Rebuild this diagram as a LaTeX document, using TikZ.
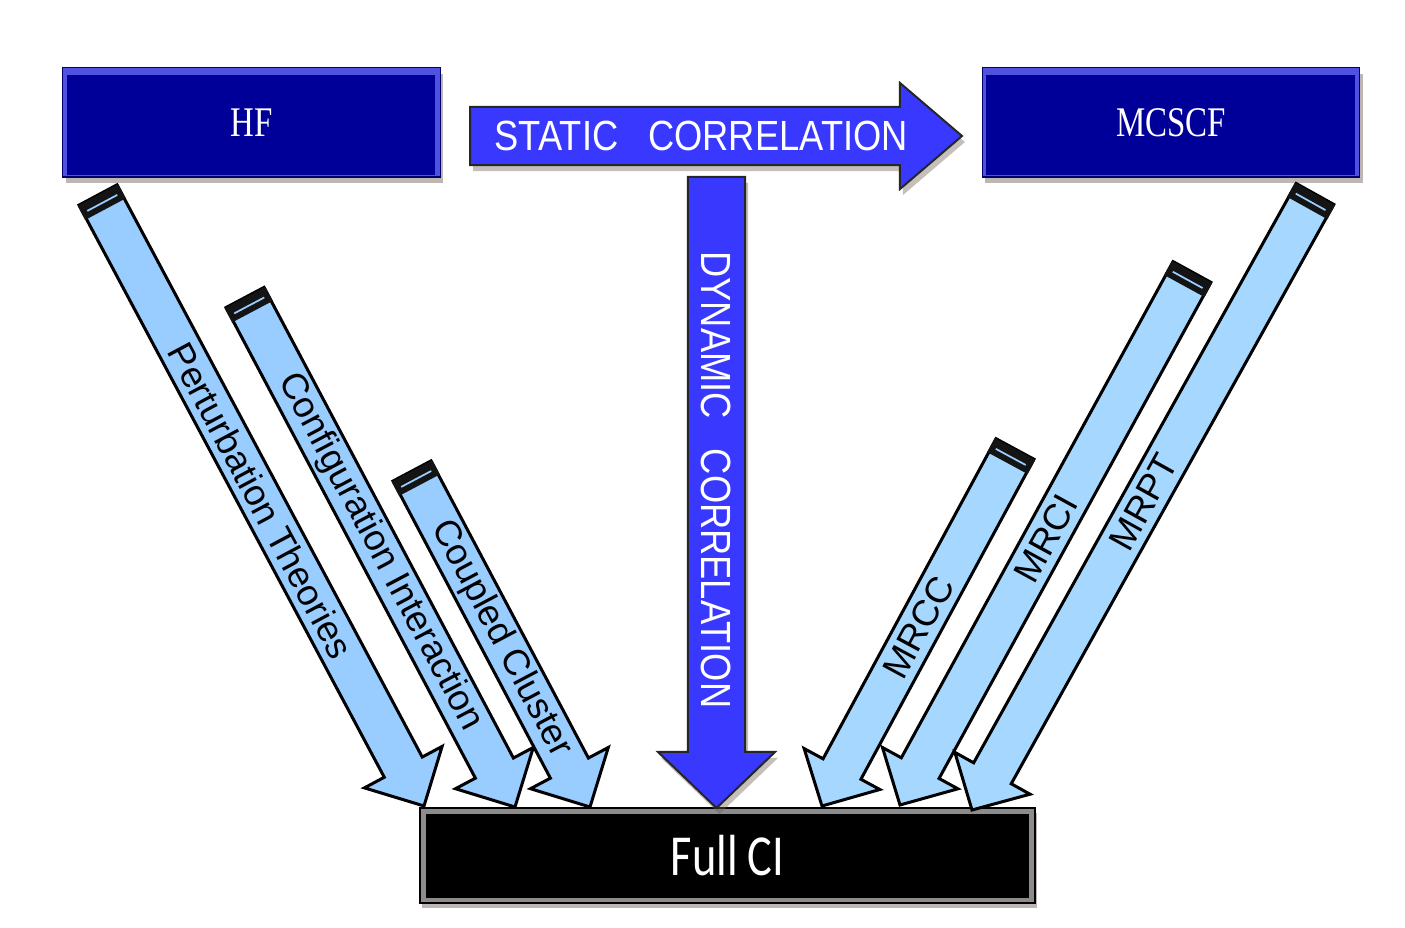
\documentclass[tikz,border=0pt]{standalone}
\usepackage{fontspec}
\setmainfont{Liberation Serif}
\setsansfont{Liberation Sans}
\newfontfamily\boxfont[FakeStretch=0.78]{Liberation Serif}
\newfontfamily\corrfont[FakeStretch=0.86]{Liberation Sans}
\newfontfamily\cifont[FakeStretch=0.8]{Carlito}
\usepackage{tikz}
\usetikzlibrary{calc}
\usetikzlibrary{shadows}

\definecolor{boxblue}{RGB}{0,0,153}
\definecolor{bevelblue}{RGB}{80,80,225}
\definecolor{corrblue}{RGB}{56,56,255}
\definecolor{methblue}{RGB}{153,204,255}
\definecolor{mrblue}{RGB}{166,216,255}
\definecolor{shadowgray}{RGB}{110,95,85}

% block arrow: tail, tip, shaft half width, head half width, head length, style
\newcommand{\blockarrow}[6]{%
    \coordinate (hb) at ($(#2)!#5!(#1)$);
    \draw[#6] ($(#1)!#3!90:(#2)$) -- ($(hb)!#3!-90:(#1)$) -- ($(hb)!#4!-90:(#1)$) -- (#2)
        -- ($(hb)!#4!90:(#1)$) -- ($(hb)!#3!90:(#1)$) -- ($(#1)!#3!-90:(#2)$) -- cycle;
}
% black cap at the tail end of a thin arrow
\newcommand{\tailcap}[2]{%
    \coordinate (cb) at ($(#1)!0.16cm!(#2)$);
    \coordinate (cl) at ($(#1)!0.09cm!(#2)$);
    \fill[black!92] ($(#1)!0.23cm!90:(#2)$) -- ($(cb)!0.23cm!-90:(#1)$)
        -- ($(cb)!0.23cm!90:(#1)$) -- ($(#1)!0.23cm!-90:(#2)$) -- cycle;
    \draw[methblue, line width=0.5pt] ($(cl)!0.17cm!-90:(#1)$) -- ($(cl)!0.17cm!90:(#1)$);
}

\begin{document}
\begin{tikzpicture}[x=0.01cm, y=-0.01cm,
    methodbox/.style={minimum width=3.77cm, minimum height=1.09cm, inner sep=0pt,
        fill=bevelblue, draw=boxblue!70!black, line width=0.3pt, text=white,
        font=\boxfont\fontsize{12}{14}\selectfont,
        drop shadow={shadow xshift=0.03cm, shadow yshift=-0.06cm, fill=shadowgray, opacity=0.45},
        path picture={\fill[boxblue] ([xshift=0.04cm,yshift=-0.07cm]path picture bounding box.north west)
            rectangle ([xshift=-0.05cm,yshift=0.02cm]path picture bounding box.south east);}},
    fullbox/.style={minimum width=6.15cm, minimum height=0.95cm, inner sep=0pt,
        fill=black!45, draw=black, line width=0.4pt, text=white,
        font=\cifont\fontsize{16.5}{18}\selectfont,
        drop shadow={shadow xshift=0.02cm, shadow yshift=-0.05cm, fill=shadowgray, opacity=0.45},
        path picture={\fill[black] ([xshift=0.06cm,yshift=-0.06cm]path picture bounding box.north west)
            rectangle ([xshift=-0.06cm,yshift=0.05cm]path picture bounding box.south east);}},
    corrarrow/.style={fill=corrblue, draw=black!85, line width=0.02cm, line join=miter,
        drop shadow={shadow xshift=0.03cm, shadow yshift=-0.06cm, fill=shadowgray, opacity=0.4}},
    metharrow/.style={fill=methblue, draw=black, line width=0.03cm, line join=miter},
    mrarrow/.style={metharrow, fill=mrblue},
    corrlabel/.style={text=white, inner sep=0pt, font=\corrfont\fontsize{12}{14}\selectfont},
    methlabel/.style={inner sep=0pt, font=\sffamily\fontsize{10.4}{12}\selectfont}]

    \fill[white] (0,0) rectangle (1405,928);
    \useasboundingbox (0,0) rectangle (1405,928);

    % boxes
    \node[methodbox] (hf)    at (251.5,122.5) {HF};
    \node[methodbox] (mcscf) at (1171,122.5)  {MCSCF};
    \node[fullbox]   (fci)   at (727.5,855.5) {Full\,CI};

    % correlation arrows
    \coordinate (st1) at (470,136);
    \coordinate (st2) at (962,136);
    \coordinate (dy1) at (716.5,177);
    \coordinate (dy2) at (716.5,808);

    \blockarrow{st1}{st2}{0.29cm}{0.53cm}{0.62cm}{corrarrow}
    \blockarrow{dy1}{dy2}{0.285cm}{0.585cm}{0.56cm}{corrarrow}

    \node[corrlabel] (static) at ($(st1)!0.47!(st2)$) {STATIC\hspace{0.3cm}CORRELATION};
    \node[corrlabel, rotate=-90] (dynamic) at ($(dy1)!0.48!(dy2)$) {DYNAMIC\hspace{0.3cm}CORRELATION};

    % single reference methods
    \coordinate (pt1) at (98,195);
    \coordinate (pt2) at (424,806);
    \coordinate (ci1) at (245,297.5);
    \coordinate (ci2) at (515,807);
    \coordinate (cc1) at (412,471);
    \coordinate (cc2) at (590,807);

    \foreach \m in {pt,ci,cc}{
        \blockarrow{\m1}{\m2}{0.215cm}{0.44cm}{0.44cm}{metharrow}
        \tailcap{\m1}{\m2}
    }

    \path (pt1) -- (pt2) node[methlabel, midway, sloped] (ptlabel) {Perturbation Theories};
    \path (ci1) -- (ci2) node[methlabel, midway, sloped] (cilabel) {Configuration Interaction};
    \path (cc1) -- (cc2) node[methlabel, midway, sloped] (cclabel) {Coupled Cluster};

    % multireference methods
    \coordinate (mrcc1) at (1015,449);
    \coordinate (mrcc2) at (822,806);
    \coordinate (mrci1) at (1192,272);
    \coordinate (mrci2) at (900,805);
    \coordinate (mrpt1) at (1315,194);
    \coordinate (mrpt2) at (972,810);

    \foreach \m in {mrcc,mrci,mrpt}{
        \blockarrow{\m1}{\m2}{0.215cm}{0.43cm}{0.42cm}{mrarrow}
        \tailcap{\m1}{\m2}
    }

    \path (mrcc1) -- (mrcc2) node[methlabel, midway, sloped] (mrcclabel) {MRCC};
    \path (mrci1) -- (mrci2) node[methlabel, midway, sloped] (mrcilabel) {MRCI};
    \path (mrpt1) -- (mrpt2) node[methlabel, midway, sloped] (mrptlabel) {MRPT};
\end{tikzpicture}
\end{document}
